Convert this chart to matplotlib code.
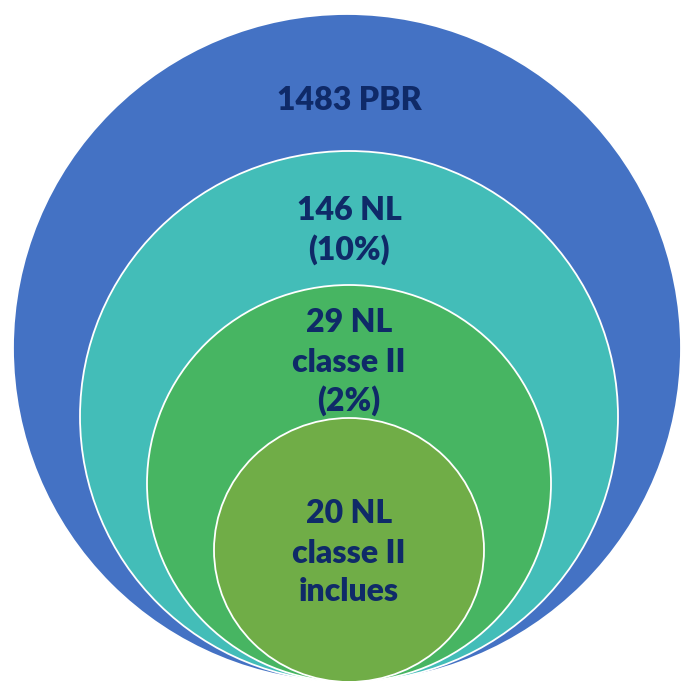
import matplotlib.pyplot as plt
from matplotlib.patches import Ellipse

# Nested groups, from the whole set down to the included subset
counts = [1483, 146, 29, 20]
labels = [
    ['1483 PBR'],
    ['146 NL', '(10%)'],
    ['29 NL', 'classe II', '(2%)'],
    ['20 NL', 'classe II', 'inclues'],
]
colors = ['#4472C4', '#43BDB8', '#47B562', '#70AD47']

# Drawing layout in pixel units (y grows downward)
widths = [668, 538, 404, 270]
heights = [668, 531, 397, 264]
centers_x = [347, 349, 349, 349]
bottom = 682
text_baselines = [
    [110],
    [220, 260],
    [332, 372, 411],
    [523, 563, 601],
]

fig = plt.figure(figsize=(6.81, 6.81), dpi=100)
ax = fig.add_axes([0, 0, 1, 1])
ax.set_xlim(0, 681)
ax.set_ylim(681, 0)
ax.axis('off')

for i, n in enumerate(counts):
    e = Ellipse((centers_x[i], bottom - heights[i] / 2), widths[i], heights[i],
                facecolor=colors[i], edgecolor='white', linewidth=1.3, zorder=i + 1)
    ax.add_patch(e)
    for line, y in zip(labels[i], text_baselines[i]):
        ax.text(349, y, line, ha='center', va='baseline', fontsize=23,
                fontweight='heavy', family='Lato', color='#0F2A68', zorder=10)

fig.savefig('out.png', dpi=100, facecolor='white')
